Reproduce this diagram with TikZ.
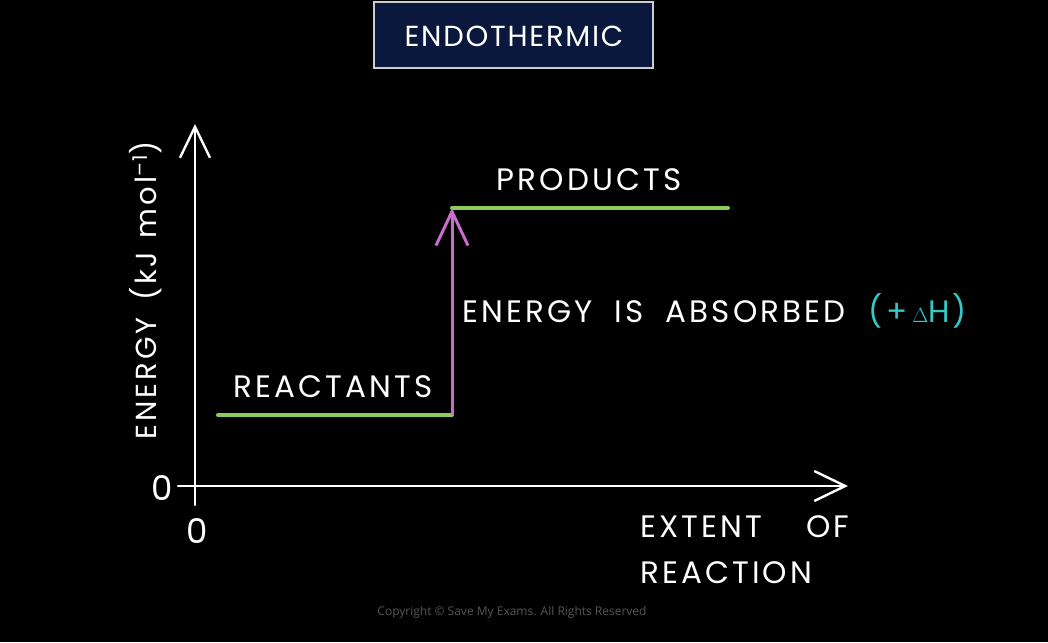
\documentclass[tikz,border=0pt]{standalone}
\usepackage{fontspec}
\setmainfont{Poppins}[LetterSpace=10]
\newfontfamily\titlefont{Poppins}[LetterSpace=6]
\newfontfamily\copyfont{Open Sans}
\usetikzlibrary{arrows.meta}
\definecolor{bgblack}{RGB}{0,0,0}
\definecolor{navy}{RGB}{10,24,62}
\definecolor{boxedge}{RGB}{205,205,205}
\definecolor{lvlgreen}{RGB}{140,204,92}
\definecolor{arrpurple}{RGB}{200,110,200}
\definecolor{dhcyan}{RGB}{52,200,200}
\definecolor{copygrey}{RGB}{85,85,85}
\tikzset{
  lbl/.style={text=white, inner sep=0pt, font=\fontsize{31}{36}\selectfont},
  axis/.style={draw=white, line width=2.4pt, line cap=round, line join=round},
  level/.style={draw=lvlgreen, line width=4pt, line cap=round},
  axtip/.style={-{Straight Barb[length=31pt,width=30pt,line width=2.4pt]}},
}
\begin{document}
\begin{tikzpicture}[x=1pt,y=-1pt]
\fill[bgblack] (0,0) rectangle (1048,642);
\useasboundingbox (0,0) rectangle (1048,642);
% title
\node[draw=boxedge, line width=1.6pt, fill=navy, minimum width=279pt, minimum height=66pt, inner sep=0pt] (title) at (513.5,35) {};
\node[lbl, font=\titlefont\fontsize{29}{34}\selectfont] (titletext) at (514,36) {ENDOTHERMIC};
% axes
\coordinate (yb) at (195,505);
\coordinate (yt) at (195,124);
\coordinate (xl) at (178,486);
\coordinate (xr) at (848,486);
\draw[axis, axtip] (yb) -- (yt);
\draw[axis, axtip] (xl) -- (xr);
\node[lbl, font=\fontsize{34}{40}\selectfont] (zeroy) at (162,488) {0};
\node[lbl, font=\fontsize{34}{40}\selectfont] (zerox) at (197,531) {0};
\node[lbl, rotate=90, font=\fontsize{29}{34}\selectfont] (ylab) at (146,290) {ENERGY\hspace{0.2em} (kJ\hspace{0.1em} mol\textsuperscript{–1})};
\node[lbl, anchor=west] (xlab1) at (640,527) {EXTENT\hspace{1.05em} OF};
\node[lbl, anchor=west] (xlab2) at (640,573) {REACTION};
% levels
\coordinate (r1) at (218,415);
\coordinate (r2) at (452,415);
\coordinate (p1) at (452,208);
\coordinate (p2) at (728,208);
\draw[level] (r1) -- (r2);
\draw[level] (p1) -- (p2);
\draw[draw=arrpurple, line width=3pt, -{Straight Barb[length=34pt,width=32pt,line width=3pt]}] (r2) -- (p1);
\node[lbl] (reac) at (333,387) {REACTANTS};
\node[lbl] (prod) at (589,180) {PRODUCTS};
\node[lbl, anchor=west] (absorb) at (462,311) {ENERGY\hspace{0.35em} IS\hspace{0.35em} ABSORBED\hspace{0.75em}\textcolor{dhcyan}{(+\,{\fontsize{20}{20}\selectfont$\Delta$}H)}};
% copyright
\node[text=copygrey, inner sep=0pt, font=\copyfont\fontsize{12}{14}\selectfont] (copy) at (512,612) {Copyright © Save My Exams. All Rights Reserved};
\end{tikzpicture}
\end{document}
